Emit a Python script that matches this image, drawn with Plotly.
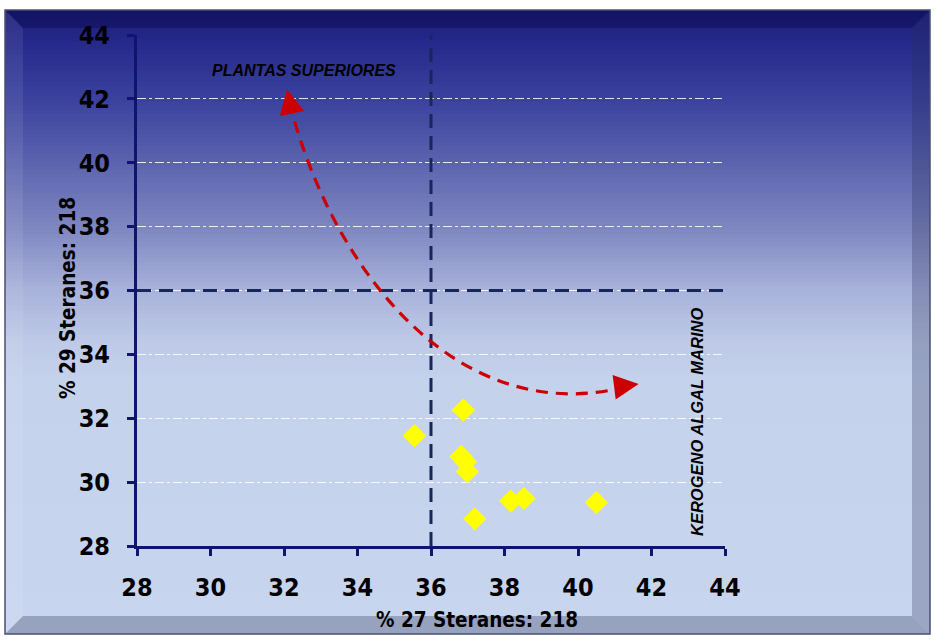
import plotly.graph_objects as go

# ---- data ----
c27 = [35.55, 36.88, 36.82, 36.94, 36.99, 38.17, 38.53, 40.50, 37.19]
c29 = [31.45, 32.26, 30.80, 30.64, 30.33, 29.41, 29.49, 29.36, 28.85]
tick_vals = [28, 30, 32, 34, 36, 38, 40, 42, 44]
x_title = "% 27 Steranes: 218"
y_title = "% 29 Steranes: 218"
label_top = "PLANTAS SUPERIORES"
label_right = "KEROGENO ALGAL MARINO"
threshold = 36
# trend arrow (bezier: start, ctrl1, ctrl2, end) in data units
arrow_pts = [(32.15, 41.9), (33.2, 37.0), (36.5, 31.7), (41.2, 32.95)]

W, H = 934, 642
L, R, T, B = 137, 725, 35, 546

def fx(px):
    return (px - L) / (R - L)

def fy(py):
    return (B - py) / (B - T)

def hex2rgb(h):
    h = h.lstrip('#')
    return tuple(int(h[i:i + 2], 16) for i in (0, 2, 4))

stops = [(10, '#1c1c76'), (40, '#25288a'), (100, '#3a429e'), (160, '#5a62ae'),
         (230, '#8088c2'), (290, '#a8b2da'), (340, '#bdc9e7'), (380, '#c5d2ec'),
         (634, '#c8d5ee')]

def color_at(py):
    for (y0, c0), (y1, c1) in zip(stops[:-1], stops[1:]):
        if y0 <= py <= y1:
            t = (py - y0) / (y1 - y0)
            a, b = hex2rgb(c0), hex2rgb(c1)
            return 'rgb(%d,%d,%d)' % tuple(round(a[i] + (b[i] - a[i]) * t) for i in range(3))
    return stops[-1][1]

shapes = []
X0, X1, Y0, Y1 = 5, 930, 10, 634
step = 4
y = Y0
while y < Y1:
    shapes.append(dict(type='rect', xref='paper', yref='paper', layer='below',
                       x0=fx(X0), x1=fx(X1), y0=fy(y), y1=fy(min(y + step + 1, Y1)),
                       fillcolor=color_at(y + step / 2), line=dict(width=0)))
    y += step

bw = 18
def poly(pts, color):
    p = 'M ' + ' L '.join('%f,%f' % (fx(a), fy(b)) for a, b in pts) + ' Z'
    return dict(type='path', xref='paper', yref='paper', layer='below', path=p,
                fillcolor=color, line=dict(width=0))

# bevel
shapes.append(poly([(X0, Y0), (X1, Y0), (X1 - bw, Y0 + bw), (X0 + bw, Y0 + bw)], 'rgba(10,10,80,0.45)'))
shapes.append(poly([(X1, Y0), (X1, Y1), (X1 - bw, Y1 - bw), (X1 - bw, Y0 + bw)], 'rgba(40,45,90,0.28)'))
shapes.append(poly([(X0, Y1), (X1, Y1), (X1 - bw, Y1 - bw), (X0 + bw, Y1 - bw)], 'rgba(60,70,100,0.35)'))
shapes.append(poly([(X0, Y0), (X0 + bw, Y0 + bw), (X0 + bw, Y1 - bw), (X0, Y1)], 'rgba(255,255,255,0.08)'))
shapes.append(dict(type='rect', xref='paper', yref='paper', layer='below',
                   x0=fx(X0), x1=fx(X1), y0=fy(Y1), y1=fy(Y0),
                   line=dict(color='#4a5070', width=1.5)))

# threshold dashed lines
dcol = '#17275c'
shapes.append(dict(type='line', xref='x', yref='y', x0=threshold, x1=threshold, y0=28, y1=44,
                   line=dict(color=dcol, width=3, dash='14px,8px')))
shapes.append(dict(type='line', xref='x', yref='y', x0=28, x1=44.2, y0=threshold, y1=threshold,
                   line=dict(color=dcol, width=3, dash='14px,8px')))

# curved trend arrow
(p0, p1, p2, p3) = arrow_pts
shapes.append(dict(type='path', xref='x', yref='y',
                   path='M %f,%f C %f,%f %f,%f %f,%f' % (p0 + p1 + p2 + p3),
                   line=dict(color='#cc0000', width=3.2, dash='12px,8px')))

font_fam = 'Liberation Sans Narrow, DejaVu Sans Condensed, Arial Narrow, sans-serif'
lab_fam = 'Liberation Sans, Arial, sans-serif'

fig = go.Figure()
fig.add_trace(go.Scatter(x=c27, y=c29, mode='markers',
                         marker=dict(symbol='diamond', size=18, color='#ffff00',
                                     line=dict(width=0)),
                         showlegend=False))

annotations = [
    dict(x=p0[0] - 0.07, y=p0[1] + 0.4, xref='x', yref='y', ax=5, ay=24, text='',
         showarrow=True, arrowhead=2, arrowsize=1.9, arrowwidth=2.6, arrowcolor='#cc0000'),
    dict(x=p3[0] + 0.45, y=p3[1] + 0.12, xref='x', yref='y', ax=-24, ay=3, text='',
         showarrow=True, arrowhead=2, arrowsize=1.9, arrowwidth=2.6, arrowcolor='#cc0000'),
    dict(x=fx(304), y=fy(70), xref='paper', yref='paper', xanchor='center', yanchor='middle',
         text='<b><i>' + label_top + '</i></b>',
         showarrow=False, font=dict(family=lab_fam, size=16, color='#000000')),
    dict(x=fx(697), y=fy(422), xref='paper', yref='paper', xanchor='center', yanchor='middle',
         text='<b><i>' + label_right + '</i></b>',
         showarrow=False, textangle=-90,
         font=dict(family=lab_fam, size=16.5, color='#000000')),
    dict(x=fx(477), y=fy(620), xref='paper', yref='paper', xanchor='center', yanchor='middle',
         text='<b>' + x_title + '</b>',
         showarrow=False, font=dict(family=font_fam, size=20.5, color='#000000')),
    dict(x=fx(68), y=fy(298), xref='paper', yref='paper', xanchor='center', yanchor='middle',
         text='<b>' + y_title + '</b>',
         showarrow=False, textangle=-90, font=dict(family=font_fam, size=20.5, color='#000000')),
]

axcol = '#10146e'
fig.update_layout(
    width=W, height=H,
    margin=dict(l=L, r=W - R, t=T, b=H - B, pad=0),
    paper_bgcolor='white', plot_bgcolor='rgba(0,0,0,0)',
    shapes=shapes, annotations=annotations,
    xaxis=dict(range=[28, 44], tickvals=tick_vals, showgrid=False, zeroline=False,
               showline=True, linecolor=axcol, linewidth=3, ticks='outside', ticklen=7,
               tickwidth=3, tickcolor=axcol, ticklabelstandoff=10,
               tickfont=dict(family=font_fam, size=25, color='#000000', weight='bold')),
    yaxis=dict(range=[28, 44], tickvals=tick_vals, showgrid=True, gridcolor='rgba(255,255,255,0.85)',
               gridwidth=1, griddash='dashdot', zeroline=False,
               showline=True, linecolor=axcol, linewidth=3, ticks='outside', ticklen=7,
               tickwidth=3, tickcolor=axcol, ticklabelstandoff=12,
               tickfont=dict(family=font_fam, size=25, color='#000000', weight='bold')),
)

fig.write_html("out.html", config={'displayModeBar': False},
               post_script="document.body.style.margin='0';document.body.style.padding='0';")
